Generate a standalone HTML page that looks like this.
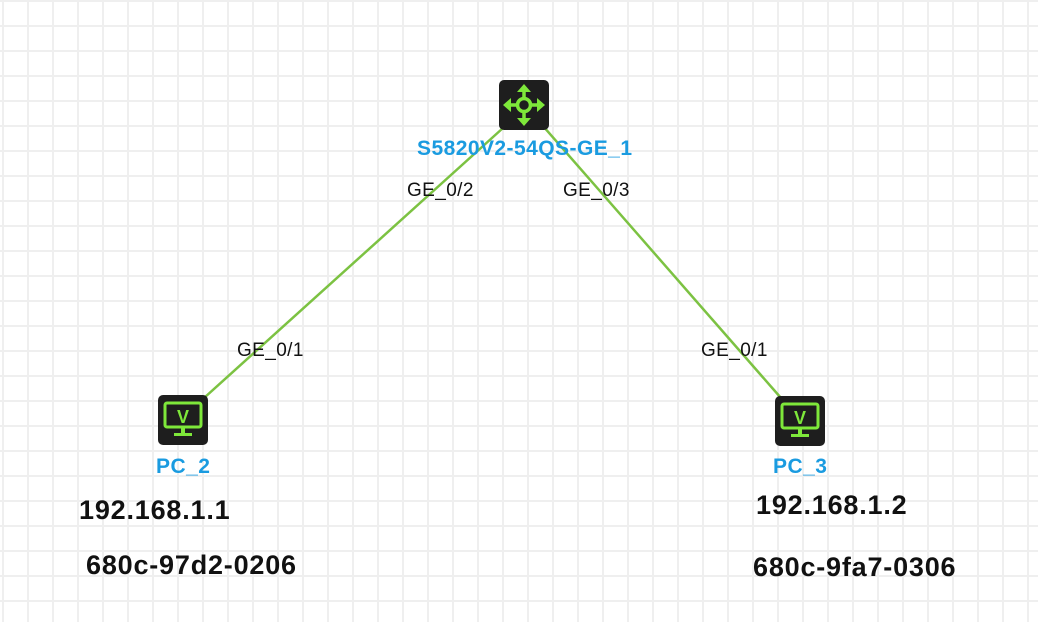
<!DOCTYPE html>
<html><head><style>
body{margin:0;width:1038px;height:622px;overflow:hidden;background:#fff;
background-image:linear-gradient(to right,#efefef 2px,transparent 2px),linear-gradient(to bottom,#efefef 2px,transparent 2px);
background-size:25px 25px;background-position:2px 0,0 0;font-family:"Liberation Sans",sans-serif;position:relative}
.t{position:absolute;white-space:nowrap;line-height:1}
.b{color:#1a9be0;font-weight:bold;font-size:21px;letter-spacing:0.45px}
.p{font-size:19px;color:#111;letter-spacing:0.4px}
.k{font-weight:bold;font-size:27px;color:#111;letter-spacing:0.8px}
</style></head><body>
<svg width="1038" height="622" style="position:absolute;left:0;top:0">
<line x1="503" y1="128" x2="204" y2="398" stroke="#7cc242" stroke-width="2.5"/>
<line x1="543" y1="126" x2="781" y2="398" stroke="#7cc242" stroke-width="2.5"/>
<rect x="499" y="80" width="50" height="50" rx="5" fill="#1e1e1e"/>
<g stroke="#7ee83a" stroke-width="3.5" fill="none">
<circle cx="524" cy="105" r="6.5"/>
<line x1="524" y1="88" x2="524" y2="98"/><line x1="524" y1="112" x2="524" y2="122"/>
<line x1="507" y1="105" x2="517" y2="105"/><line x1="531" y1="105" x2="541" y2="105"/>
</g>
<g fill="#7ee83a">
<polygon points="524,84 517,92 531,92"/><polygon points="524,126 517,118 531,118"/>
<polygon points="503,105 511,98 511,112"/><polygon points="545,105 537,98 537,112"/>
</g>
<g id="pc">
<rect x="158" y="395" width="50" height="50" rx="5" fill="#1e1e1e"/>
<rect x="165" y="403" width="36" height="24" rx="2" fill="none" stroke="#7ee83a" stroke-width="3"/>
<text x="183" y="423" font-family="Liberation Sans" font-weight="bold" font-size="18" fill="#7ee83a" text-anchor="middle">V</text>
<rect x="181" y="428" width="4" height="5" fill="#7ee83a"/>
<rect x="174" y="433" width="18" height="3" fill="#7ee83a"/>
</g>
<use href="#pc" x="617" y="1"/>
</svg>
<div class="t b" style="left:417px;top:138px">S5820V2-54QS-GE_1</div>
<div class="t b" style="left:156px;top:456px">PC_2</div>
<div class="t b" style="left:773px;top:456px">PC_3</div>
<div class="t p" style="left:407px;top:181px">GE_0/2</div>
<div class="t p" style="left:563px;top:181px">GE_0/3</div>
<div class="t p" style="left:237px;top:341px">GE_0/1</div>
<div class="t p" style="left:701px;top:341px">GE_0/1</div>
<div class="t k" style="left:79px;top:497px">192.168.1.1</div>
<div class="t k" style="left:86px;top:552px">680c-97d2-0206</div>
<div class="t k" style="left:756px;top:492px">192.168.1.2</div>
<div class="t k" style="left:753px;top:554px">680c-9fa7-0306</div>
</body></html>
